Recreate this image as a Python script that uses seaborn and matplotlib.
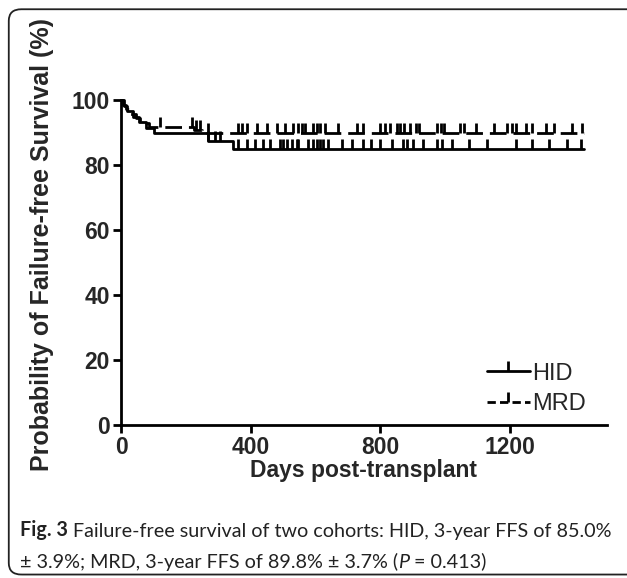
import numpy as np
import pandas as pd
import matplotlib
matplotlib.use("Agg")
import matplotlib.pyplot as plt
import seaborn as sns
from matplotlib.lines import Line2D
from matplotlib.patches import FancyBboxPatch

# Kaplan-Meier step data
hid_time = [0, 8, 20, 38, 55, 78, 102, 268, 345, 1428]
hid_surv = [100, 98.3, 96.6, 94.9, 93.2, 91.5, 89.8, 87.4, 85.0, 85.0]
mrd_time = [0, 5, 15, 28, 45, 60, 85, 225, 250, 1428]
mrd_surv = [100, 98.6, 97.2, 95.8, 94.4, 93.0, 91.6, 90.7, 89.8, 89.8]

# censored observations (days)
hid_cens = [268, 290, 305, 360, 388, 413, 437, 459, 490, 499, 512, 527, 542, 545,
            576, 592, 604, 613, 622, 638, 681, 712, 746, 773, 798, 835, 869, 884,
            900, 931, 974, 992, 1023, 1075, 1131, 1220, 1270, 1322, 1377, 1420]
mrd_cens = [120, 220, 232, 243, 268, 360, 372, 388, 420, 450, 480, 505, 530, 545,
            558, 567, 592, 604, 613, 629, 669, 727, 746, 798, 814, 829, 851, 860,
            875, 891, 912, 921, 974, 989, 998, 1045, 1060, 1097, 1152, 1193, 1208,
            1220, 1251, 1270, 1313, 1337, 1393, 1424]

x_ticks = [0, 400, 800, 1200]
y_ticks = [0, 20, 40, 60, 80, 100]


def surv_at(times, survs, t):
    i = np.searchsorted(times, t, side="right") - 1
    return survs[i]


sns.set_style("ticks")
plt.rcParams["font.family"] = ["Liberation Sans", "DejaVu Sans"]

fig = plt.figure(figsize=(6.27, 5.78), dpi=100)
ax = fig.add_axes([0.193, 0.265, 0.775, 0.562])

df = pd.concat([
    pd.DataFrame({"day": hid_time, "surv": hid_surv, "group": "HID"}),
    pd.DataFrame({"day": mrd_time, "surv": mrd_surv, "group": "MRD"}),
])

sns.lineplot(data=df[df.group == "HID"], x="day", y="surv", ax=ax, color="black",
             lw=2, drawstyle="steps-post", clip_on=False, legend=False)
sns.lineplot(data=df[df.group == "MRD"], x="day", y="surv", ax=ax, color="black",
             lw=2, drawstyle="steps-post", linestyle=(0, (6, 2.5)),
             clip_on=False, legend=False)

hid_cy = [surv_at(hid_time, hid_surv, t) for t in hid_cens]
mrd_cy = [surv_at(mrd_time, mrd_surv, t) for t in mrd_cens]
ax.plot(hid_cens, hid_cy, ls="none", marker=2, ms=7, mew=2, color="black", clip_on=False)
ax.plot(mrd_cens, mrd_cy, ls="none", marker=2, ms=7, mew=2, color="black", clip_on=False)

ax.set_xlim(0, 1500)
ax.set_ylim(0, 100)
ax.set_xticks(x_ticks)
ax.set_yticks(y_ticks)
ax.tick_params(width=2, length=6, labelsize=16.5, direction="out", color="black", pad=2)
for lab in ax.get_xticklabels() + ax.get_yticklabels():
    lab.set_fontweight("bold")
for s in ["left", "bottom"]:
    ax.spines[s].set_linewidth(2)
    ax.spines[s].set_color("black")
sns.despine(ax=ax)
ax.set_xlabel("Days post-transplant", fontsize=16.5, fontweight="bold", labelpad=0)
ax.set_ylabel("Probability of Failure-free Survival (%)", fontsize=18,
              fontweight="bold")
ax.yaxis.set_label_coords(-0.137, 0.555)

handles = [
    Line2D([], [], color="black", lw=2, marker=2, ms=7, mew=2),
    Line2D([], [], color="black", lw=2, ls=(0, (3, 1.5)), marker=2, ms=7, mew=2),
]
ax.legend(handles, ["HID", "MRD"], loc="lower right", frameon=False, fontsize=17,
          handlelength=1.8, handletextpad=0.1, labelspacing=0.35, numpoints=1,
          bbox_to_anchor=(1.0, -0.035))

# rounded frame around figure and caption
frame = FancyBboxPatch((0.014, 0.006), 1.2, 0.978, boxstyle="round,pad=0,rounding_size=0.02",
                       transform=fig.transFigure, fill=False, lw=1.3, ec="#222222")
fig.patches.append(frame)

cap_font = ["Lato", "DejaVu Sans"]
cap_size = 14.2
t1 = fig.text(0.032, 0.073, "Fig. 3", fontsize=cap_size, fontweight="bold", family=cap_font,
              color="#222222")
t2 = ax.annotate(" Failure-free survival of two cohorts: HID, 3-year FFS of 85.0%",
                 xy=(1, 0), xycoords=t1, fontsize=cap_size, family=cap_font, color="#222222",
                 va="bottom", annotation_clip=False)
t3 = fig.text(0.032, 0.018, "± 3.9%; MRD, 3-year FFS of 89.8% ± 3.7% (", fontsize=cap_size,
              family=cap_font, color="#222222")
t4 = ax.annotate("P", xy=(1, 0), xycoords=t3, fontsize=cap_size, family=cap_font,
                 style="italic", color="#222222", va="bottom", annotation_clip=False)
ax.annotate(" = 0.413)", xy=(1, 0), xycoords=t4, fontsize=cap_size, family=cap_font,
            color="#222222", va="bottom", annotation_clip=False)

fig.savefig("out.png", dpi=100)
